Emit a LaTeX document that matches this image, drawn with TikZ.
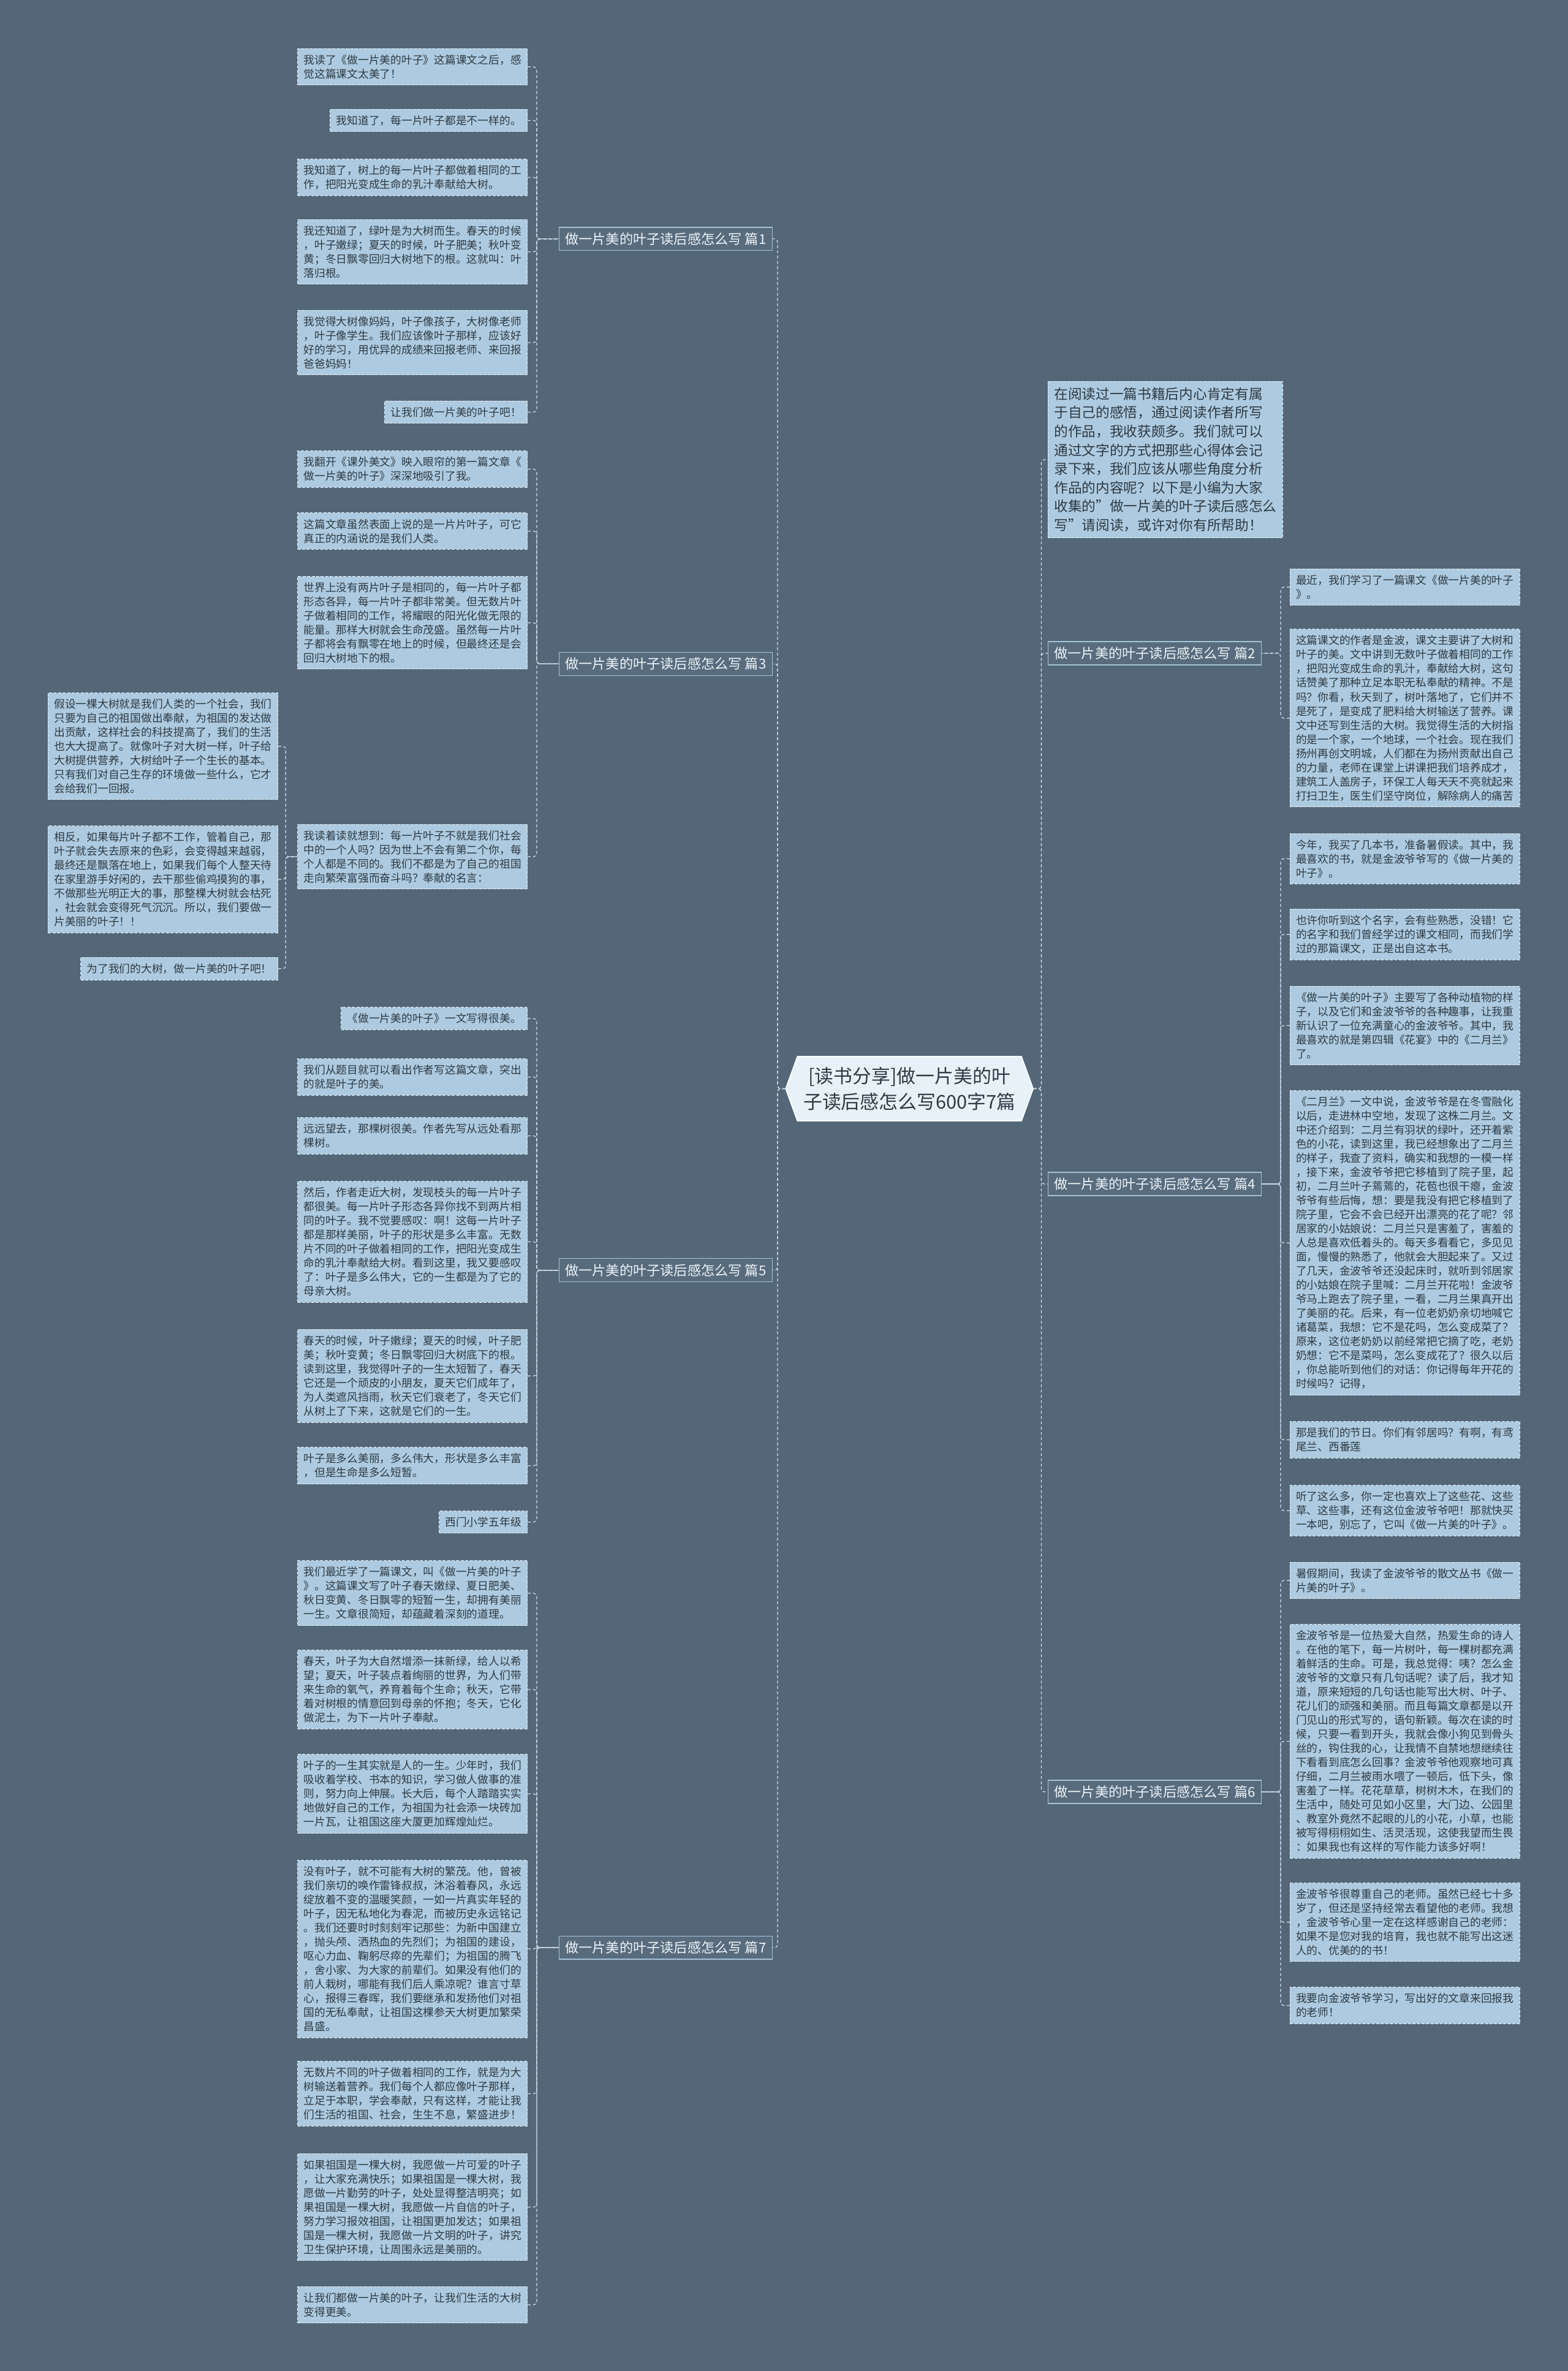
\documentclass[tikz,border=0pt]{standalone}
\usepackage{fontspec}
\setmainfont{Noto Sans CJK SC}
\usetikzlibrary{positioning, shapes.symbols}
\definecolor{bgslate}{HTML}{536778}
\definecolor{leaffill}{HTML}{ADCAE0}
\definecolor{leafline}{HTML}{E4EEF6}
\definecolor{inktext}{HTML}{2E3A44}
\definecolor{linkline}{HTML}{D3DFE9}
\definecolor{partfill}{HTML}{586C7E}
\definecolor{partline}{HTML}{A7C2D8}
\definecolor{parttext}{HTML}{EDF3F8}
\definecolor{topicfill}{HTML}{E8F1F9}
\tikzset{leaf/.style={draw=leafline, fill=leaffill, dash pattern=on 2pt off 1pt,
           line width=0.4pt, text=inktext, align=left, inner xsep=4pt, inner ysep=4pt,
           font=\fontsize{7.2}{9.33}\selectfont},
         intro/.style={leaf, font=\fontsize{9.2}{12.4}\selectfont},
         part/.style={draw=partline, fill=partfill, line width=0.5pt, text=parttext,
           inner xsep=4pt, inner ysep=3.5pt, font=\fontsize{9}{11}\selectfont},
         topic/.style={shape=signal, signal to=west and east, signal pointer angle=140,
           draw=white, fill=topicfill, line width=0.6pt, text=inktext, align=center,
           inner xsep=4pt, inner ysep=7pt, font=\fontsize{12.5}{17}\selectfont},
         link/.style={draw=linkline, line width=0.5pt, dash pattern=on 2pt off 1.5pt,
           rounded corners=2pt}
        }
\begin{document}
\begin{tikzpicture}[x=1pt, y=-1pt]
\fill[bgslate] (0,0) rectangle (1037,1568);
\useasboundingbox (0,0) rectangle (1037,1568);

\node[topic] (center_topic) at (601.5,720) {[读书分享]做一片美的叶\\子读后感怎么写600字7篇};

\node[part, anchor=east] (part_1) at (511,158) {做一片美的叶子读后感怎么写 篇1};
\node[part, anchor=east] (part_3) at (511,439) {做一片美的叶子读后感怎么写 篇3};
\node[part, anchor=east] (part_5) at (511,840) {做一片美的叶子读后感怎么写 篇5};
\node[part, anchor=east] (part_7) at (511,1288) {做一片美的叶子读后感怎么写 篇7};
\node[intro, anchor=north west] (intro_text) at (693,252) {在阅读过一篇书籍后内心肯定有属\\于自己的感悟，通过阅读作者所写\\的作品，我收获颇多。我们就可以\\通过文字的方式把那些心得体会记\\录下来，我们应该从哪些角度分析\\作品的内容呢？以下是小编为大家\\收集的"做一片美的叶子读后感怎么\\写"请阅读，或许对你有所帮助！};
\node[part, anchor=west] (part_2) at (693,432) {做一片美的叶子读后感怎么写 篇2};
\node[part, anchor=west] (part_4) at (693,783) {做一片美的叶子读后感怎么写 篇4};
\node[part, anchor=west] (part_6) at (693,1185) {做一片美的叶子读后感怎么写 篇6};

\node[leaf, anchor=north east] (leaf_1a) at (349,32) {我读了《做一片美的叶子》这篇课文之后，感\\觉这篇课文太美了！};
\node[leaf, anchor=north east] (leaf_1b) at (349,72) {我知道了，每一片叶子都是不一样的。};
\node[leaf, anchor=north east] (leaf_1c) at (349,105) {我知道了，树上的每一片叶子都做着相同的工\\作，把阳光变成生命的乳汁奉献给大树。};
\node[leaf, anchor=north east] (leaf_1d) at (349,145) {我还知道了，绿叶是为大树而生。春天的时候\\，叶子嫩绿；夏天的时候，叶子肥美；秋叶变\\黄；冬日飘零回归大树地下的根。这就叫：叶\\落归根。};
\node[leaf, anchor=north east] (leaf_1e) at (349,205) {我觉得大树像妈妈，叶子像孩子，大树像老师\\，叶子像学生。我们应该像叶子那样，应该好\\好的学习，用优异的成绩来回报老师、来回报\\爸爸妈妈！};
\node[leaf, anchor=north east] (leaf_1f) at (349,265) {让我们做一片美的叶子吧！};

\node[leaf, anchor=north east] (leaf_3a) at (349,298) {我翻开《课外美文》映入眼帘的第一篇文章《\\做一片美的叶子》深深地吸引了我。};
\node[leaf, anchor=north east] (leaf_3b) at (349,339) {这篇文章虽然表面上说的是一片片叶子，可它\\真正的内涵说的是我们人类。};
\node[leaf, anchor=north east] (leaf_3c) at (349,381) {世界上没有两片叶子是相同的，每一片叶子都\\形态各异，每一片叶子都非常美。但无数片叶\\子做着相同的工作，将耀眼的阳光化做无限的\\能量。那样大树就会生命茂盛。虽然每一片叶\\子都将会有飘零在地上的时候，但最终还是会\\回归大树地下的根。};
\node[leaf, anchor=north east] (leaf_3d) at (349,545) {我读着读就想到：每一片叶子不就是我们社会\\中的一个人吗？因为世上不会有第二个你，每\\个人都是不同的。我们不都是为了自己的祖国\\走向繁荣富强而奋斗吗？奉献的名言：};
\node[leaf, anchor=north east] (far_3a) at (184,458) {假设一棵大树就是我们人类的一个社会，我们\\只要为自己的祖国做出奉献，为祖国的发达做\\出贡献，这样社会的科技提高了，我们的生活\\也大大提高了。就像叶子对大树一样，叶子给\\大树提供营养，大树给叶子一个生长的基本。\\只有我们对自己生存的环境做一些什么，它才\\会给我们一回报。};
\node[leaf, anchor=north east] (far_3b) at (184,546) {相反，如果每片叶子都不工作，管着自己，那\\叶子就会失去原来的色彩，会变得越来越弱，\\最终还是飘落在地上，如果我们每个人整天待\\在家里游手好闲的，去干那些偷鸡摸狗的事，\\不做那些光明正大的事，那整棵大树就会枯死\\，社会就会变得死气沉沉。所以，我们要做一\\片美丽的叶子！！};
\node[leaf, anchor=north east] (far_3c) at (184,633) {为了我们的大树，做一片美的叶子吧！};

\node[leaf, anchor=north east] (leaf_5a) at (349,666) {《做一片美的叶子》一文写得很美。};
\node[leaf, anchor=north east] (leaf_5b) at (349,700) {我们从题目就可以看出作者写这篇文章，突出\\的就是叶子的美。};
\node[leaf, anchor=north east] (leaf_5c) at (349,739) {远远望去，那棵树很美。作者先写从远处看那\\棵树。};
\node[leaf, anchor=north east] (leaf_5d) at (349,781) {然后，作者走近大树，发现枝头的每一片叶子\\都很美。每一片叶子形态各异你找不到两片相\\同的叶子。我不觉要感叹：啊！这每一片叶子\\都是那样美丽，叶子的形状是多么丰富。无数\\片不同的叶子做着相同的工作，把阳光变成生\\命的乳汁奉献给大树。看到这里，我又要感叹\\了：叶子是多么伟大，它的一生都是为了它的\\母亲大树。};
\node[leaf, anchor=north east] (leaf_5e) at (349,879) {春天的时候，叶子嫩绿；夏天的时候，叶子肥\\美；秋叶变黄；冬日飘零回归大树底下的根。\\读到这里，我觉得叶子的一生太短暂了，春天\\它还是一个顽皮的小朋友，夏天它们成年了，\\为人类遮风挡雨，秋天它们衰老了，冬天它们\\从树上了下来，这就是它们的一生。};
\node[leaf, anchor=north east] (leaf_5f) at (349,957) {叶子是多么美丽，多么伟大，形状是多么丰富\\，但是生命是多么短暂。};
\node[leaf, anchor=north east] (leaf_5g) at (349,999) {西门小学五年级};

\node[leaf, anchor=north east] (leaf_7a) at (349,1032) {我们最近学了一篇课文，叫《做一片美的叶子\\》。这篇课文写了叶子春天嫩绿、夏日肥美、\\秋日变黄、冬日飘零的短暂一生，却拥有美丽\\一生。文章很简短，却蕴藏着深刻的道理。};
\node[leaf, anchor=north east] (leaf_7b) at (349,1091) {春天，叶子为大自然增添一抹新绿，给人以希\\望；夏天，叶子装点着绚丽的世界，为人们带\\来生命的氧气，养育着每个生命；秋天，它带\\着对树根的情意回到母亲的怀抱；冬天，它化\\做泥土，为下一片叶子奉献。};
\node[leaf, anchor=north east] (leaf_7c) at (349,1160) {叶子的一生其实就是人的一生。少年时，我们\\吸收着学校、书本的知识，学习做人做事的准\\则，努力向上伸展。长大后，每个人踏踏实实\\地做好自己的工作，为祖国为社会添一块砖加\\一片瓦，让祖国这座大厦更加辉煌灿烂。};
\node[leaf, anchor=north east] (leaf_7d) at (349,1230) {没有叶子，就不可能有大树的繁茂。他，曾被\\我们亲切的唤作雷锋叔叔，沐浴着春风，永远\\绽放着不变的温暖笑颜，一如一片真实年轻的\\叶子，因无私地化为春泥，而被历史永远铭记\\。我们还要时时刻刻牢记那些：为新中国建立\\，抛头颅、洒热血的先烈们；为祖国的建设，\\呕心力血、鞠躬尽瘁的先辈们；为祖国的腾飞\\，舍小家、为大家的前辈们。如果没有他们的\\前人栽树，哪能有我们后人乘凉呢？谁言寸草\\心，报得三春晖，我们要继承和发扬他们对祖\\国的无私奉献，让祖国这棵参天大树更加繁荣\\昌盛。};
\node[leaf, anchor=north east] (leaf_7e) at (349,1363) {无数片不同的叶子做着相同的工作，就是为大\\树输送着营养。我们每个人都应像叶子那样，\\立足于本职，学会奉献，只有这样，才能让我\\们生活的祖国、社会，生生不息，繁盛进步！};
\node[leaf, anchor=north east] (leaf_7f) at (349,1424) {如果祖国是一棵大树，我愿做一片可爱的叶子\\，让大家充满快乐；如果祖国是一棵大树，我\\愿做一片勤劳的叶子，处处显得整洁明亮；如\\果祖国是一棵大树，我愿做一片自信的叶子，\\努力学习报效祖国，让祖国更加发达；如果祖\\国是一棵大树，我愿做一片文明的叶子，讲究\\卫生保护环境，让周围永远是美丽的。};
\node[leaf, anchor=north east] (leaf_7g) at (349,1512) {让我们都做一片美的叶子，让我们生活的大树\\变得更美。};

\node[leaf, anchor=north west] (leaf_2a) at (853,376) {最近，我们学习了一篇课文《做一片美的叶子\\》。};
\node[leaf, anchor=north west] (leaf_2b) at (853,416) {这篇课文的作者是金波，课文主要讲了大树和\\叶子的美。文中讲到无数叶子做着相同的工作\\，把阳光变成生命的乳汁，奉献给大树，这句\\话赞美了那种立足本职无私奉献的精神。不是\\吗？你看，秋天到了，树叶落地了，它们并不\\是死了，是变成了肥料给大树输送了营养。课\\文中还写到生活的大树。我觉得生活的大树指\\的是一个家，一个地球，一个社会。现在我们\\扬州再创文明城，人们都在为扬州贡献出自己\\的力量，老师在课堂上讲课把我们培养成才，\\建筑工人盖房子，环保工人每天天不亮就起来\\打扫卫生，医生们坚守岗位，解除病人的痛苦};

\node[leaf, anchor=north west] (leaf_4a) at (853,551) {今年，我买了几本书，准备暑假读。其中，我\\最喜欢的书，就是金波爷爷写的《做一片美的\\叶子》。};
\node[leaf, anchor=north west] (leaf_4b) at (853,601) {也许你听到这个名字，会有些熟悉，没错！它\\的名字和我们曾经学过的课文相同，而我们学\\过的那篇课文，正是出自这本书。};
\node[leaf, anchor=north west] (leaf_4c) at (853,652) {《做一片美的叶子》主要写了各种动植物的样\\子，以及它们和金波爷爷的各种趣事，让我重\\新认识了一位充满童心的金波爷爷。其中，我\\最喜欢的就是第四辑《花宴》中的《二月兰》\\了。};
\node[leaf, anchor=north west] (leaf_4d) at (853,721) {《二月兰》一文中说，金波爷爷是在冬雪融化\\以后，走进林中空地，发现了这株二月兰。文\\中还介绍到：二月兰有羽状的绿叶，还开着紫\\色的小花，读到这里，我已经想象出了二月兰\\的样子，我查了资料，确实和我想的一模一样\\，接下来，金波爷爷把它移植到了院子里，起\\初，二月兰叶子蔫蔫的，花苞也很干瘪，金波\\爷爷有些后悔，想：要是我没有把它移植到了\\院子里，它会不会已经开出漂亮的花了呢？邻\\居家的小姑娘说：二月兰只是害羞了，害羞的\\人总是喜欢低着头的。每天多看看它，多见见\\面，慢慢的熟悉了，他就会大胆起来了。又过\\了几天，金波爷爷还没起床时，就听到邻居家\\的小姑娘在院子里喊：二月兰开花啦！金波爷\\爷马上跑去了院子里，一看，二月兰果真开出\\了美丽的花。后来，有一位老奶奶亲切地喊它\\诸葛菜，我想：它不是花吗，怎么变成菜了？\\原来，这位老奶奶以前经常把它摘了吃，老奶\\奶想：它不是菜吗，怎么变成花了？很久以后\\，你总能听到他们的对话：你记得每年开花的\\时候吗？记得，};
\node[leaf, anchor=north west] (leaf_4e) at (853,940) {那是我们的节日。你们有邻居吗？有啊，有鸢\\尾兰、西番莲};
\node[leaf, anchor=north west] (leaf_4f) at (853,982) {听了这么多，你一定也喜欢上了这些花、这些\\草、这些事，还有这位金波爷爷吧！那就快买\\一本吧，别忘了，它叫《做一片美的叶子》。};

\node[leaf, anchor=north west] (leaf_6a) at (853,1033) {暑假期间，我读了金波爷爷的散文丛书《做一\\片美的叶子》。};
\node[leaf, anchor=north west] (leaf_6b) at (853,1074) {金波爷爷是一位热爱大自然，热爱生命的诗人\\。在他的笔下，每一片树叶，每一棵树都充满\\着鲜活的生命。可是，我总觉得：咦？怎么金\\波爷爷的文章只有几句话呢？读了后，我才知\\道，原来短短的几句话也能写出大树、叶子、\\花儿们的顽强和美丽。而且每篇文章都是以开\\门见山的形式写的，语句新颖。每次在读的时\\候，只要一看到开头，我就会像小狗见到骨头\\丝的，钩住我的心，让我情不自禁地想继续往\\下看看到底怎么回事？金波爷爷他观察地可真\\仔细，二月兰被雨水喂了一顿后，低下头，像\\害羞了一样。花花草草，树树木木，在我们的\\生活中，随处可见如小区里，大门边、公园里\\、教室外竟然不起眼的儿的小花，小草，也能\\被写得栩栩如生、活灵活现，这使我望而生畏\\：如果我也有这样的写作能力该多好啊！};
\node[leaf, anchor=north west] (leaf_6c) at (853,1245) {金波爷爷很尊重自己的老师。虽然已经七十多\\岁了，但还是坚持经常去看望他的老师。我想\\，金波爷爷心里一定在这样感谢自己的老师：\\如果不是您对我的培育，我也就不能写出这迷\\人的、优美的的书！};
\node[leaf, anchor=north west] (leaf_6d) at (853,1314) {我要向金波爷爷学习，写出好的文章来回报我\\的老师！};

\draw[link](center_topic.west) -- ++(-5,0) |- (part_1.east);
\draw[link](center_topic.west) -- ++(-5,0) |- (part_3.east);
\draw[link](center_topic.west) -- ++(-5,0) |- (part_5.east);
\draw[link](center_topic.west) -- ++(-5,0) |- (part_7.east);
\draw[link](center_topic.east) -- ++(5,0) |- (intro_text.west);
\draw[link](center_topic.east) -- ++(5,0) |- (part_2.west);
\draw[link](center_topic.east) -- ++(5,0) |- (part_4.west);
\draw[link](center_topic.east) -- ++(5,0) |- (part_6.west);

\draw[link](leaf_1a.east) -- ++(6,0) |- (part_1.west);
\draw[link](leaf_1b.east) -- ++(6,0) |- (part_1.west);
\draw[link](leaf_1c.east) -- ++(6,0) |- (part_1.west);
\draw[link](leaf_1d.east) -- ++(6,0) |- (part_1.west);
\draw[link](leaf_1e.east) -- ++(6,0) |- (part_1.west);
\draw[link](leaf_1f.east) -- ++(6,0) |- (part_1.west);

\draw[link](leaf_3a.east) -- ++(6,0) |- (part_3.west);
\draw[link](leaf_3b.east) -- ++(6,0) |- (part_3.west);
\draw[link](leaf_3c.east) -- ++(6,0) |- (part_3.west);
\draw[link](leaf_3d.east) -- ++(6,0) |- (part_3.west);
\draw[link](far_3a.east) -- ++(5,0) |- (leaf_3d.west);
\draw[link](far_3b.east) -- ++(5,0) |- (leaf_3d.west);
\draw[link](far_3c.east) -- ++(5,0) |- (leaf_3d.west);

\draw[link](leaf_5a.east) -- ++(6,0) |- (part_5.west);
\draw[link](leaf_5b.east) -- ++(6,0) |- (part_5.west);
\draw[link](leaf_5c.east) -- ++(6,0) |- (part_5.west);
\draw[link](leaf_5d.east) -- ++(6,0) |- (part_5.west);
\draw[link](leaf_5e.east) -- ++(6,0) |- (part_5.west);
\draw[link](leaf_5f.east) -- ++(6,0) |- (part_5.west);
\draw[link](leaf_5g.east) -- ++(6,0) |- (part_5.west);

\draw[link](leaf_7a.east) -- ++(6,0) |- (part_7.west);
\draw[link](leaf_7b.east) -- ++(6,0) |- (part_7.west);
\draw[link](leaf_7c.east) -- ++(6,0) |- (part_7.west);
\draw[link](leaf_7d.east) -- ++(6,0) |- (part_7.west);
\draw[link](leaf_7e.east) -- ++(6,0) |- (part_7.west);
\draw[link](leaf_7f.east) -- ++(6,0) |- (part_7.west);
\draw[link](leaf_7g.east) -- ++(6,0) |- (part_7.west);

\draw[link](leaf_2a.west) -- ++(-6,0) |- (part_2.east);
\draw[link](leaf_2b.west) -- ++(-6,0) |- (part_2.east);

\draw[link](leaf_4a.west) -- ++(-6,0) |- (part_4.east);
\draw[link](leaf_4b.west) -- ++(-6,0) |- (part_4.east);
\draw[link](leaf_4c.west) -- ++(-6,0) |- (part_4.east);
\draw[link](leaf_4d.west) -- ++(-6,0) |- (part_4.east);
\draw[link](leaf_4e.west) -- ++(-6,0) |- (part_4.east);
\draw[link](leaf_4f.west) -- ++(-6,0) |- (part_4.east);

\draw[link](leaf_6a.west) -- ++(-6,0) |- (part_6.east);
\draw[link](leaf_6b.west) -- ++(-6,0) |- (part_6.east);
\draw[link](leaf_6c.west) -- ++(-6,0) |- (part_6.east);
\draw[link](leaf_6d.west) -- ++(-6,0) |- (part_6.east);

\end{tikzpicture}
\end{document}
